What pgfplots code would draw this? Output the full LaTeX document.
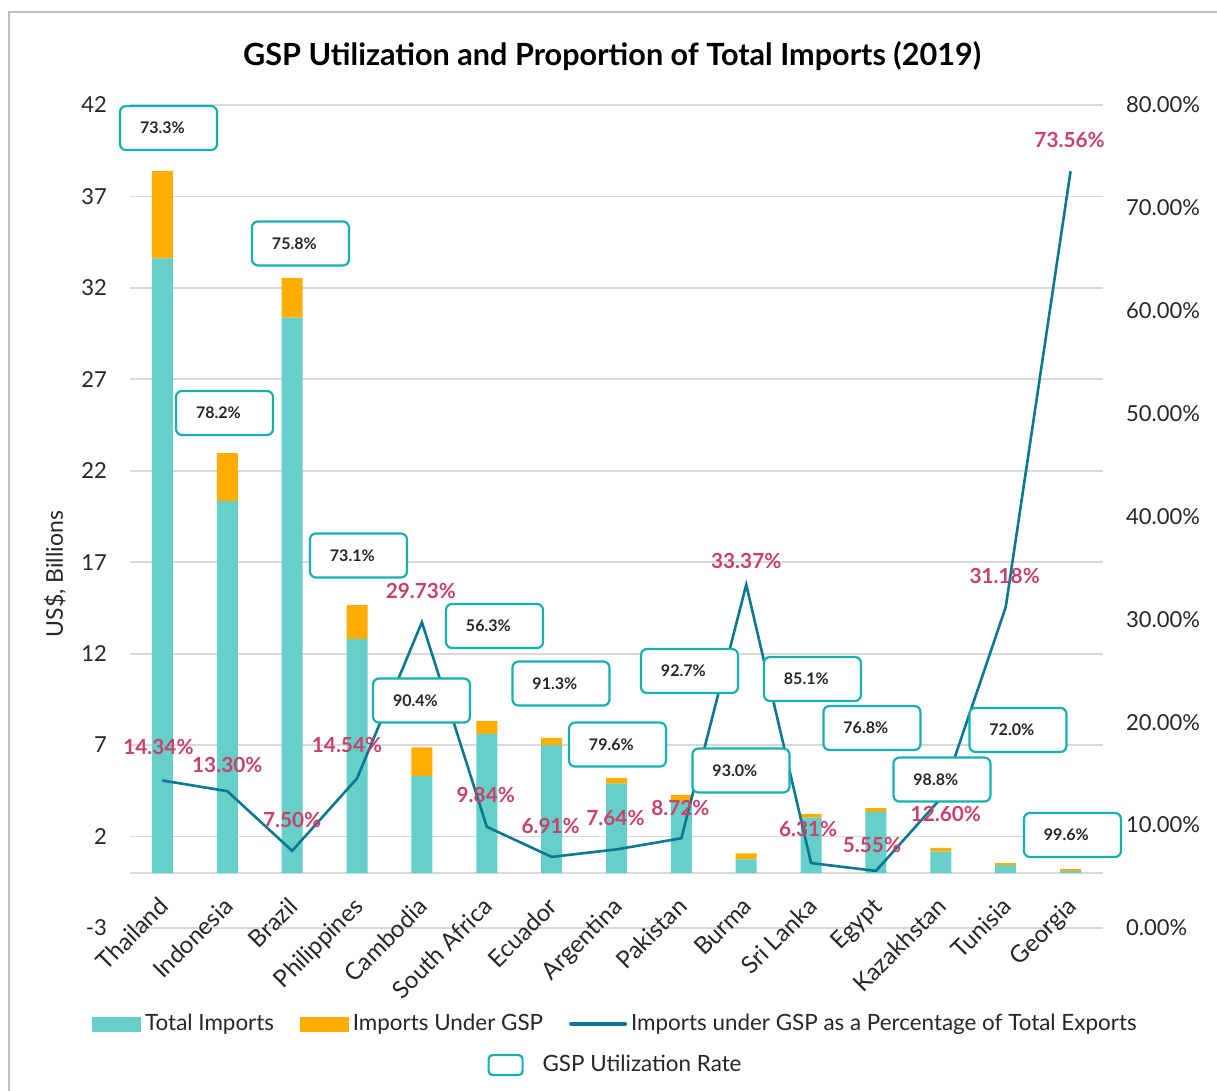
\documentclass[border=0pt]{standalone}
\usepackage{fontspec}
\setmainfont{Lato}
\usepackage{pgfplots}
\usepackage{pgfplotstable}
\pgfplotsset{compat=1.18}

\definecolor{barteal}{HTML}{67CFCA}
\definecolor{gsporange}{HTML}{FFAD00}
\definecolor{linecol}{HTML}{0B7891}
\definecolor{boxteal}{HTML}{14B2AA}
\definecolor{labred}{HTML}{C8416A}
\definecolor{gridgray}{HTML}{D9D9D9}
\definecolor{framegray}{HTML}{BFBFBF}
\definecolor{txt}{HTML}{262626}

\newcommand\tfont{\fontsize{11}{13}\selectfont}
\newcommand\lfont{\fontsize{11.2}{13}\selectfont}

% total imports and imports under GSP in US$ bn, GSP imports as % of total exports,
% shift of each % label (pt), utilization rate and where its box sits (index, % axis)
\pgfplotstableread[col sep=comma]{
idx,country,total,gsp,pct,ldx,ldy,util,bx,by
0,Thailand,33.61,4.77,14.34,-2,16.5,73.3,0.094,77.76
1,Indonesia,20.34,2.62,13.30,0,13,78.2,0.957,50.06
2,Brazil,30.38,2.17,7.50,0,15.5,75.8,2.128,66.54
3,Philippines,12.79,1.86,14.54,-5,16.5,73.1,3.022,36.21
4,Cambodia,5.32,1.55,29.73,-0.5,15.5,90.4,3.994,22.11
5,South Africa,7.62,0.71,9.84,-0.5,16,56.3,5.119,29.36
6,Ecuador,7.00,0.40,6.91,-0.5,15.5,91.3,6.144,23.76
7,Argentina,4.90,0.31,7.64,-0.5,15.5,79.6,7.015,17.83
8,Pakistan,3.94,0.32,8.72,-0.5,15,92.7,8.125,24.98
9,Burma,0.75,0.33,33.37,0,12,93.0,8.919,15.31
10,Sri Lanka,3.04,0.20,6.31,-1.5,17,85.1,10.021,24.20
11,Egypt,3.35,0.20,5.55,-2,13,76.8,10.938,19.44
12,Kazakhstan,1.17,0.21,12.60,2.5,-8,98.8,12.017,14.43
13,Tunisia,0.44,0.11,31.18,-0.5,15.5,72.0,13.189,19.25
14,Georgia,0.11,0.11,73.56,-0.5,15.5,99.6,14.029,9.04
}\datatable

\pgfplotsset{
  chartbase/.style={
    scale only axis, width=486.5pt, height=411.5pt,
    at={(0,0)}, anchor=south west,
    xmin=-0.5, xmax=14.5,
    axis line style={draw=none},
    major tick length=0pt,
    tick label style={font=\tfont, text=txt},
    /pgf/number format/assume math mode=true,
  },
}

\begin{document}
\begin{tikzpicture}
\useasboundingbox (-65pt,-81.5pt) rectangle (543.5pt,464pt);

% left axis: stacked bars
\begin{axis}[chartbase,
  ymin=-3, ymax=42, ytick={-3,2,...,42},
  ymajorgrids, grid style={gridgray, line width=0.9pt},
  extra y ticks={0}, extra y tick labels={},
  extra y tick style={grid=major},
  yticklabel style={xshift=-8pt},
  xtick={0,...,14},
  xticklabels from table={\datatable}{country},
  xticklabel style={font=\fontsize{12}{14}\selectfont, xshift=-2.5pt, yshift=21pt, rotate=45, anchor=north east},
  ybar stacked, bar width=10.5pt,
  ylabel={US\$, Billions},
  ylabel style={at={(axis description cs:-0.077,0.43)}, anchor=center, font=\fontsize{11.5}{13}\selectfont, text=txt},
  legend style={at={(0.5,-0.1665)}, anchor=center, draw=none, fill=none, font=\lfont, text=txt},
]
\addlegendimage{legend image code/.code={\draw[boxteal, line width=1.1pt, rounded corners=2pt] (0pt,-5pt) rectangle (17pt,5pt); \path[draw=none, fill=none] (0pt,0pt) -- (25pt,0pt);}}
\addlegendentry{GSP Utilization Rate}
\addplot[fill=barteal, draw=none] table[x=idx, y=total] {\datatable};
\addplot[fill=gsporange, draw=none] table[x=idx, y=gsp] {\datatable};
\end{axis}

% right axis: percentage line, utilization boxes, labels
\begin{axis}[chartbase,
  ymin=0, ymax=80, ytick={0,10,...,80},
  yticklabel pos=right,
  yticklabel={\pgfmathprintnumber[fixed,fixed zerofill,precision=2]{\tick}\%},
  yticklabel style={xshift=8pt},
  xtick=\empty,
  clip=false,
  legend style={at={(0.5,-0.1166)}, anchor=center, draw=none, fill=none,
    font=\lfont, text=txt, legend columns=3,
    /tikz/every even column/.append style={column sep=11pt}},
]
\addlegendimage{legend image code/.code={\fill[barteal] (0pt,-3.5pt) rectangle (24pt,3.5pt);}}
\addlegendentry{Total Imports}
\addlegendimage{legend image code/.code={\fill[gsporange] (0pt,-3.5pt) rectangle (24pt,3.5pt);}}
\addlegendentry{Imports Under GSP}
\addplot[linecol, line width=1.3pt, mark=none,
  legend image code/.code={\draw[linecol, line width=2pt, line cap=round] (0pt,0pt) -- (27pt,0pt);}]
  table[x=idx, y=pct] {\datatable};
\addlegendentry{Imports under GSP as a Percentage of Total Exports}

\addplot[only marks, mark=none, point meta=\thisrow{util},
  nodes near coords={\makebox[48.5pt][l]{\hspace{10pt}\pgfmathprintnumber[fixed,fixed zerofill,precision=1]{\pgfplotspointmeta}\%}},
  every node near coord/.append style={anchor=center, draw=boxteal, fill=white,
    line width=1.1pt, rounded corners=3pt, minimum width=48.5pt, minimum height=22pt,
    inner sep=0pt, font=\bfseries\fontsize{8}{9}\selectfont, text=txt}]
  table[x=bx, y=by] {\datatable};

\addplot[only marks, mark=none, point meta=y,
  visualization depends on={\thisrow{ldx} \as \ldx},
  visualization depends on={\thisrow{ldy} \as \ldy},
  nodes near coords={\pgfmathprintnumber[fixed,fixed zerofill,precision=2]{\pgfplotspointmeta}\%},
  every node near coord/.append style={anchor=center, xshift=\ldx*1pt, yshift=\ldy*1pt,
    inner sep=0pt, font=\bfseries\fontsize{10.4}{12}\selectfont, text=labred}]
  table[x=idx, y=pct] {\datatable};
\end{axis}

\node[font=\bfseries\fontsize{15.3}{18}\selectfont, text=black] at (241pt,436pt)
  {GSP Utilization and Proportion of Total Imports (2019)};
\draw[framegray, line width=1pt] (-60.5pt,-81.5pt) -- (-60.5pt,458pt) -- (543.5pt,458pt);
\end{tikzpicture}
\end{document}
